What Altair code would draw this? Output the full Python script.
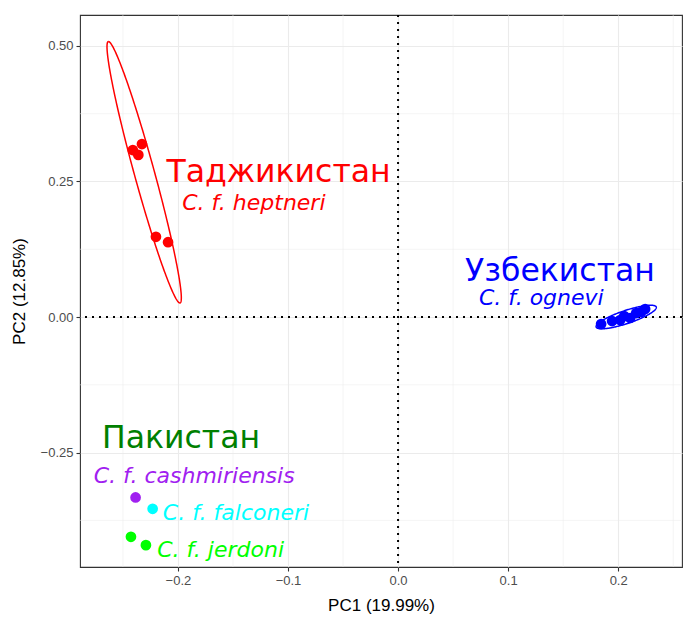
import numpy as np
import pandas as pd
import altair as alt

# ---------------- data ----------------
pt_group = ["Таджикистан"] * 5 + ["Узбекистан"] * 8 + ["cashmiriensis", "falconeri", "jerdoni", "jerdoni"]
pt_x = [-0.2327, -0.2410, -0.2360, -0.2200, -0.2090,
        0.1845, 0.1945, 0.2018, 0.2055, 0.2109, 0.2164, 0.2209, 0.2245,
        -0.2385, -0.2230, -0.2427, -0.2291]
pt_y = [0.3190, 0.3080, 0.2990, 0.1480, 0.1380,
        -0.0129, -0.0074, -0.0055, 0.0018, -0.0018, 0.0074, 0.0092, 0.0148,
        -0.3327, -0.3537, -0.4053, -0.4207]

grp_domain = ["Таджикистан", "Узбекистан", "cashmiriensis", "falconeri", "jerdoni"]
grp_colors = ["#FF0000", "#0000FF", "#A020F0", "#00FFFF", "#00FF00"]

# confidence ellipses: centre and two conjugate semi-axes (data units)
ell_group = ["Таджикистан", "Узбекистан"]
ell_cx = [-0.2307, 0.2073]
ell_cy = [0.2670, 0.0000]
ell_ux = [-0.0326, 0.0273]
ell_uy = [0.2410, 0.0185]
ell_vx = [0.0088, 0.0019]
ell_vy = [0.0049, -0.0114]

# text labels
country_text = ["Таджикистан", "Узбекистан", "Пакистан"]
country_x = [-0.2105, 0.0609, -0.2690]
country_y = [0.2490, 0.0664, -0.2417]
country_color = ["#FF0000", "#0000FF", "#008000"]

species_text = ["C. f. heptneri", "C. f. ognevi", "C. f. cashmiriensis", "C. f. falconeri", "C. f. jerdoni"]
species_x = [-0.1962, 0.0735, -0.2765, -0.2137, -0.2189]
species_y = [0.1970, 0.0221, -0.3057, -0.3745, -0.4422]
species_color = ["#FF0000", "#0000FF", "#A020F0", "#00FFFF", "#00FF00"]

x_ticks = [-0.2, -0.1, 0.0, 0.1, 0.2]
y_ticks = [-0.25, 0.0, 0.25, 0.5]
x_minor = [-0.25, -0.15, -0.05, 0.05, 0.15, 0.25]
y_minor = [-0.375, -0.125, 0.125, 0.375]
x_title = "PC1 (19.99%)"
y_title = "PC2 (12.85%)"

# ---------------- tables ----------------
pts = pd.DataFrame({"group": pt_group, "x": pt_x, "y": pt_y})

t = np.linspace(0, 2 * np.pi, 241)
rows = []
for g, cx, cy, ux, uy, vx, vy in zip(ell_group, ell_cx, ell_cy, ell_ux, ell_uy, ell_vx, ell_vy):
    for i, tt in enumerate(t):
        rows.append({"group": g, "i": i,
                     "x": cx + ux * np.cos(tt) + vx * np.sin(tt),
                     "y": cy + uy * np.cos(tt) + vy * np.sin(tt)})
ell = pd.DataFrame(rows)

countries = pd.DataFrame({"text": country_text, "x": country_x, "y": country_y, "c": country_color})
species = pd.DataFrame({"text": species_text, "x": species_x, "y": species_y, "c": species_color})

xscale = alt.Scale(domain=[-0.289, 0.258], nice=False, zero=False)
yscale = alt.Scale(domain=[-0.461, 0.557], nice=False, zero=False)

xaxis = alt.Axis(values=x_ticks, format=".1f", title=x_title, grid=True,
                 titleY=38, titleBaseline="middle", titleAlign="center")
yaxis = alt.Axis(values=y_ticks, format=".2f", title=y_title, grid=True,
                 titleX=-61, titleY=276, titleAngle=270, titleBaseline="middle", titleAlign="center")


def X(f):
    return alt.X(f, type="quantitative", scale=xscale, axis=xaxis)


def Y(f):
    return alt.Y(f, type="quantitative", scale=yscale, axis=yaxis)


minor_v = alt.Chart(pd.DataFrame({"v": x_minor})).mark_rule(color="#EBEBEB", strokeWidth=0.55).encode(x=X("v"))
minor_h = alt.Chart(pd.DataFrame({"v": y_minor})).mark_rule(color="#EBEBEB", strokeWidth=0.55).encode(y=Y("v"))

zero_v = alt.Chart(pd.DataFrame({"v": [0.0]})).mark_rule(color="black", strokeWidth=2, strokeDash=[2, 5]).encode(x=X("v"))
zero_h = alt.Chart(pd.DataFrame({"v": [0.0]})).mark_rule(color="black", strokeWidth=2, strokeDash=[2, 5]).encode(y=Y("v"))

points = alt.Chart(pts).mark_circle(size=115, opacity=1).encode(
    x=X("x"), y=Y("y"),
    color=alt.Color("group:N", scale=alt.Scale(domain=grp_domain, range=grp_colors), legend=None),
)

ellipses = alt.Chart(ell).mark_line(strokeWidth=1.5).encode(
    x=X("x"), y=Y("y"), detail="group:N", order="i:Q",
    color=alt.Color("group:N", scale=alt.Scale(domain=grp_domain, range=grp_colors), legend=None),
)

country_lbl = alt.Chart(countries).mark_text(
    font="DejaVu Sans", fontSize=31.5, align="left", baseline="alphabetic"
).encode(x=X("x"), y=Y("y"), text="text:N", color=alt.Color("c:N", scale=None))

species_lbl = alt.Chart(species).mark_text(
    font="DejaVu Sans", fontSize=22, fontStyle="italic", align="left", baseline="alphabetic"
).encode(x=X("x"), y=Y("y"), text="text:N", color=alt.Color("c:N", scale=None))

chart = alt.layer(
    minor_v, minor_h, zero_v, zero_h, points, ellipses, country_lbl, species_lbl
).properties(
    width=602, height=552,
    background="white",
    autosize=alt.AutoSizeParams(type="none"),
    padding={"left": 80, "top": 15, "right": 13, "bottom": 62},
).configure_view(
    stroke="#333333", strokeWidth=1.1
).configure_axis(
    domain=False,
    gridColor="#EBEBEB", gridWidth=1.1,
    tickColor="#333333", tickWidth=1.1, tickSize=4,
    labelColor="#4D4D4D", labelFont="Liberation Sans", labelFontSize=13, labelPadding=3,
    titleColor="black", titleFont="Liberation Sans", titleFontSize=17, titleFontWeight="normal",
)

chart.save("out.html", embed_options={"renderer": "svg", "actions": False})
